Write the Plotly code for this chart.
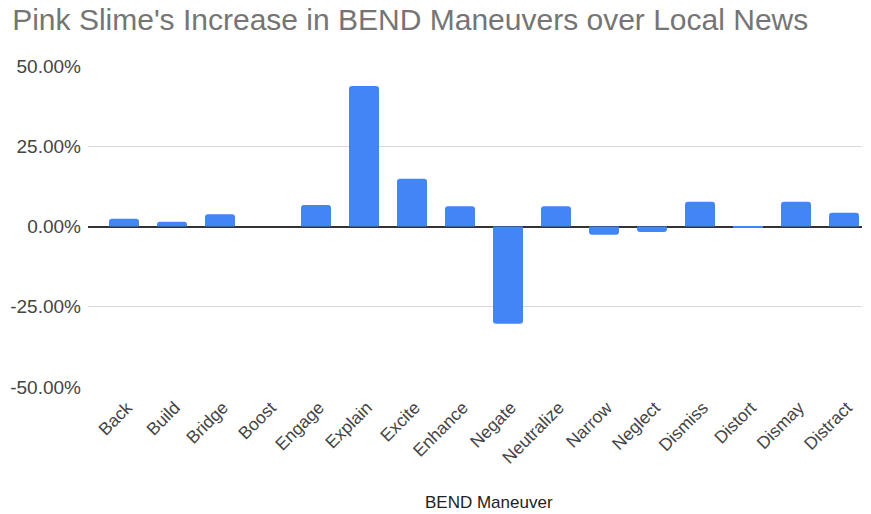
import plotly.graph_objects as go

categories = ["Back", "Build", "Bridge", "Boost", "Engage", "Explain", "Excite", "Enhance",
              "Negate", "Neutralize", "Narrow", "Neglect", "Dismiss", "Distort", "Dismay", "Distract"]
values = [0.024, 0.015, 0.038, 0.0, 0.067, 0.438, 0.149, 0.063,
          -0.303, 0.063, -0.026, -0.017, 0.077, -0.003, 0.077, 0.043]
y_ticks = [-0.5, -0.25, 0, 0.25, 0.5]
y_tick_labels = ["-50.00%", "-25.00%", "0.00%", "25.00%", "50.00%"]

FONT = "Arial, Liberation Sans, sans-serif"

fig = go.Figure(go.Bar(
    x=categories, y=values,
    marker=dict(color="#4285F4", cornerradius=3, line=dict(width=0)),
    width=0.625,
))

fig.update_layout(
    width=871, height=514,
    paper_bgcolor="white", plot_bgcolor="white",
    margin=dict(l=88, r=9, t=66, b=127, autoexpand=False),
    title=dict(text="Pink Slime's Increase in BEND Maneuvers over Local News",
               x=0.014, xanchor="left", y=0.962, yanchor="middle",
               font=dict(family=FONT, size=30, color="#757575")),
    font=dict(family=FONT, color="#444444"),
    showlegend=False,
    xaxis=dict(
        range=[-0.75, 15.375], tickangle=-45, automargin=False,
        tickfont=dict(size=17.5, color="#444444"),
        showgrid=False, showline=False, zeroline=False, ticks="",
        ticklabelshift=3, ticklabelstandoff=6,
    ),
    yaxis=dict(
        range=[-0.5, 0.5], tickvals=y_ticks, ticktext=y_tick_labels, automargin=False,
        tickfont=dict(size=19, color="#444444"),
        showgrid=True, gridcolor="#d9d9d9", gridwidth=1,
        zeroline=True, zerolinecolor="#333333", zerolinewidth=1.5,
        showline=False, ticks="", ticklabelstandoff=6,
    ),
    annotations=[dict(
        text="BEND Maneuver", xref="paper", yref="paper",
        x=0.518, y=-0.361, xanchor="center", yanchor="middle", showarrow=False,
        font=dict(family=FONT, size=17, color="#222222"),
    )],
)

fig.write_html("out.html", post_script="document.body.style.margin='0';",
               config={"displayModeBar": False})
